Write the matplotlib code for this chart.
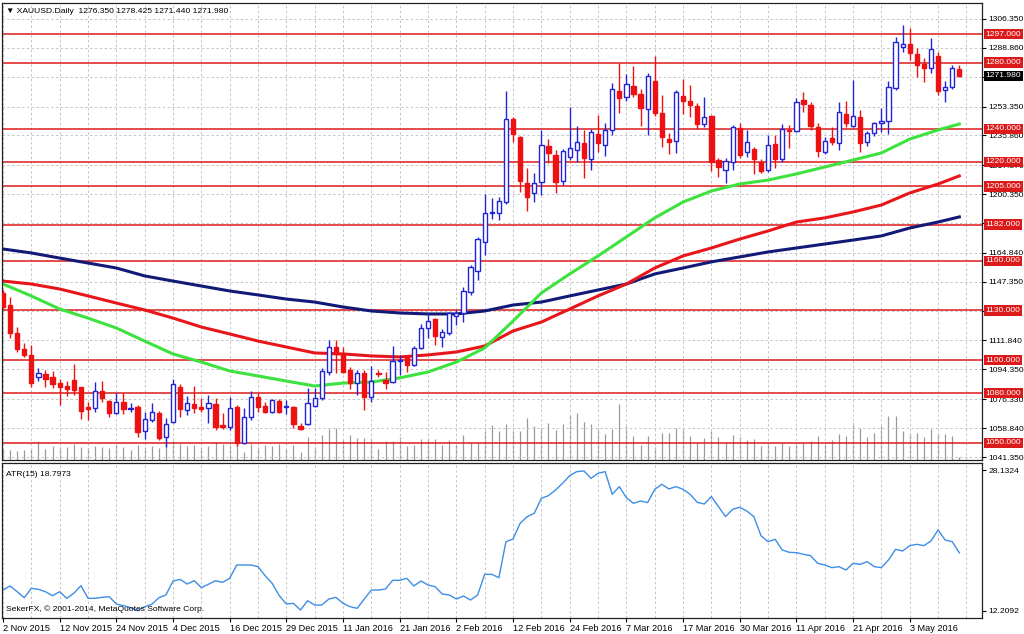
import numpy as np
import matplotlib.pyplot as plt
from matplotlib import transforms

plt.rcParams['font.family'] = ['Liberation Sans', 'DejaVu Sans']

# daily candles XAUUSD, 2 Nov 2015 .. 12 May 2016
opens = [1140.5, 1133.3, 1116.4, 1106.7, 1103.1, 1089.8, 1091.6, 1089.8, 1086.1, 1084.3,
         1087.9, 1083.7, 1071.6, 1071.0, 1081.3, 1075.2, 1068.0, 1074.6, 1070.4, 1071.6,
         1057.1, 1063.7, 1068.0, 1053.5, 1062.5, 1083.7, 1069.8, 1073.4, 1071.6, 1071.0,
         1073.4, 1060.7, 1059.5, 1071.6, 1049.8, 1065.6, 1077.6, 1072.2, 1068.6, 1075.2,
         1071.8, 1071.6, 1060.1, 1061.3, 1072.2, 1077.0, 1092.8, 1107.9, 1103.7, 1094.0,
         1086.1, 1092.2, 1077.6, 1092.2, 1087.9, 1086.7, 1099.7, 1101.9, 1097.0, 1107.3,
         1119.4, 1124.8, 1114.0, 1116.4, 1126.5, 1128.5, 1141.2, 1153.9, 1171.4, 1188.7,
         1189.0, 1195.6, 1245.8, 1235.0, 1207.1, 1201.1, 1207.7, 1229.5, 1224.1, 1208.3,
         1222.9, 1227.1, 1231.3, 1221.6, 1236.8, 1230.1, 1239.2, 1262.8, 1259.2, 1265.8,
         1261.0, 1251.9, 1268.8, 1249.5, 1233.7, 1232.5, 1259.8, 1256.7, 1253.7, 1242.8,
         1247.7, 1221.0, 1215.0, 1219.8, 1240.4, 1225.9, 1227.7, 1219.8, 1215.0, 1230.7,
         1221.6, 1239.2, 1238.6, 1257.3, 1254.3, 1241.0, 1225.9, 1234.4, 1231.3, 1248.9,
         1241.6, 1247.1, 1231.9, 1237.4, 1243.4, 1244.6, 1264.6, 1289.4, 1291.2, 1285.2,
         1279.1, 1276.7, 1284.0, 1263.4, 1265.2, 1276.35]
highs = [1142.4, 1138.2, 1120.0, 1110.3, 1109.1, 1095.2, 1094.0, 1093.4, 1088.5, 1087.3,
         1097.6, 1084.0, 1074.6, 1086.7, 1087.3, 1075.8, 1080.1, 1080.1, 1074.0, 1072.8,
         1068.6, 1074.0, 1069.2, 1064.9, 1088.5, 1085.5, 1078.3, 1084.3, 1077.0, 1078.9,
         1077.0, 1068.0, 1077.6, 1072.8, 1071.0, 1081.3, 1080.1, 1074.6, 1076.5, 1076.4,
         1075.8, 1072.0, 1061.9, 1083.1, 1083.1, 1095.2, 1112.1, 1112.1, 1107.9, 1095.8,
         1094.0, 1094.0, 1096.4, 1094.0, 1092.8, 1108.5, 1103.1, 1103.1, 1108.5, 1121.8,
         1128.5, 1125.4, 1118.8, 1129.1, 1130.3, 1144.2, 1157.5, 1174.4, 1200.5, 1198.0,
         1198.6, 1262.8, 1247.0, 1235.6, 1216.2, 1213.2, 1239.2, 1233.7, 1227.1, 1227.7,
         1253.1, 1241.6, 1239.2, 1239.8, 1248.3, 1243.4, 1267.6, 1279.7, 1273.1, 1277.9,
         1264.0, 1273.7, 1284.0, 1260.4, 1237.4, 1263.4, 1270.0, 1266.4, 1255.5, 1259.2,
         1248.3, 1222.2, 1222.2, 1242.2, 1243.4, 1239.2, 1228.9, 1221.6, 1236.2, 1236.2,
         1242.8, 1242.2, 1258.6, 1262.2, 1256.1, 1243.4, 1235.0, 1241.0, 1256.1, 1256.7,
         1269.4, 1251.3, 1238.6, 1244.0, 1252.5, 1268.8, 1295.5, 1302.7, 1300.9, 1288.8,
         1282.8, 1294.9, 1286.4, 1268.8, 1278.5, 1278.425]
lows = [1131.5, 1113.3, 1104.9, 1101.9, 1083.7, 1087.3, 1083.7, 1083.1, 1072.8, 1078.3,
        1078.9, 1064.3, 1063.7, 1068.6, 1074.6, 1065.6, 1067.5, 1067.4, 1068.6, 1053.5,
        1052.3, 1062.5, 1051.6, 1047.4, 1061.9, 1065.6, 1066.8, 1068.0, 1068.6, 1061.9,
        1057.7, 1058.3, 1057.7, 1048.0, 1049.2, 1063.7, 1068.6, 1068.0, 1068.0, 1068.0,
        1067.4, 1058.9, 1057.7, 1060.7, 1071.6, 1075.8, 1091.0, 1092.0, 1092.2, 1082.5,
        1078.9, 1069.8, 1074.6, 1089.8, 1082.5, 1086.1, 1091.0, 1092.8, 1096.4, 1106.7,
        1113.3, 1109.1, 1107.9, 1115.2, 1121.0, 1123.0, 1139.4, 1148.4, 1163.6, 1185.3,
        1184.7, 1194.4, 1232.0, 1201.7, 1190.2, 1195.6, 1199.9, 1219.2, 1201.1, 1205.9,
        1221.0, 1219.8, 1210.2, 1215.0, 1225.9, 1223.5, 1236.2, 1249.5, 1256.7, 1259.2,
        1241.6, 1236.2, 1247.7, 1228.9, 1224.7, 1225.3, 1248.9, 1247.1, 1239.8, 1241.0,
        1214.4, 1210.8, 1207.1, 1215.0, 1222.3, 1222.9, 1212.6, 1213.2, 1213.8, 1216.2,
        1219.8, 1228.3, 1238.0, 1250.1, 1239.2, 1222.9, 1224.7, 1230.1, 1227.1, 1241.0,
        1241.0, 1225.9, 1229.5, 1235.6, 1238.0, 1236.8, 1263.4, 1286.4, 1281.5, 1271.3,
        1268.2, 1273.7, 1260.4, 1256.1, 1264.0, 1271.44]
closes = [1132.1, 1116.4, 1106.7, 1103.1, 1086.1, 1092.2, 1088.5, 1085.5, 1083.7, 1082.5,
          1081.9, 1069.2, 1070.4, 1081.3, 1077.0, 1068.0, 1074.6, 1070.4, 1071.0, 1056.5,
          1064.3, 1068.6, 1052.9, 1061.3, 1085.5, 1070.4, 1074.0, 1071.0, 1070.4, 1074.0,
          1059.5, 1059.5, 1071.0, 1049.8, 1065.6, 1077.6, 1071.6, 1068.6, 1075.8, 1068.6,
          1072.2, 1061.3, 1058.3, 1074.0, 1077.0, 1093.4, 1107.9, 1103.7, 1092.8, 1086.1,
          1092.2, 1077.6, 1087.3, 1091.6, 1086.1, 1099.4, 1100.0, 1097.0, 1107.3, 1119.4,
          1123.6, 1114.6, 1117.0, 1128.5, 1128.5, 1141.8, 1156.3, 1173.2, 1189.0, 1189.3,
          1196.2, 1245.8, 1236.8, 1208.3, 1198.6, 1207.1, 1230.1, 1225.3, 1207.7, 1226.5,
          1228.3, 1231.9, 1222.3, 1238.0, 1231.3, 1239.2, 1264.0, 1258.6, 1267.0, 1261.0,
          1252.5, 1271.9, 1249.5, 1235.0, 1231.9, 1262.2, 1256.7, 1254.3, 1242.8, 1247.1,
          1219.8, 1216.8, 1220.4, 1241.0, 1224.1, 1231.9, 1221.6, 1214.4, 1230.1, 1221.6,
          1239.8, 1238.6, 1256.1, 1254.9, 1241.6, 1226.5, 1232.5, 1231.9, 1250.1, 1243.4,
          1247.7, 1231.3, 1237.4, 1243.4, 1244.6, 1265.2, 1292.4, 1291.2, 1285.8, 1278.5,
          1276.7, 1288.2, 1262.8, 1265.2, 1276.7, 1271.98]

# tick volume (thousands)
volumes = [11, 10, 9, 10, 11, 19, 11, 14, 13, 13, 16, 13, 12, 14, 13, 12, 16, 13, 10, 15,
           13, 14, 12, 17, 19, 16, 14, 15, 13, 14, 18, 16, 14, 17, 8, 16, 13, 15, 14, 16,
           11, 15, 8, 23, 13, 25, 31, 32, 20, 25, 22, 22, 22, 11, 19, 19, 23, 14, 15, 21,
           22, 21, 15, 20, 15, 25, 17, 17, 29, 35, 29, 36, 29, 29, 42, 34, 32, 37, 30, 36,
           45, 47, 38, 36, 32, 26, 31, 56, 34, 24, 15, 24, 13, 27, 27, 32, 32, 24, 17, 22,
           29, 23, 17, 25, 23, 20, 21, 14, 17, 14, 17, 14, 17, 17, 19, 24, 16, 20, 26, 24,
           37, 32, 23, 27, 34, 44, 44, 29, 27, 27, 23, 31, 27, 26, 24, 3]

# moving averages read every 4 bars
ma_bars = [0, 4, 8, 12, 16, 20, 24, 28, 32, 36, 40, 44, 48, 52, 56, 60, 64, 68, 72, 76,
           80, 84, 88, 92, 96, 100, 104, 108, 112, 116, 120, 124, 128, 132, 135]
ma_fast = [1146.0, 1138.8, 1130.9, 1125.4, 1119.4, 1111.5, 1103.7, 1098.8, 1093.4, 1090.4,
           1087.3, 1084.3, 1086.1, 1086.7, 1089.2, 1092.8, 1098.8, 1107.3, 1123.6, 1140.6,
           1152.1, 1163.0, 1174.5, 1186.0, 1195.6, 1202.3, 1206.5, 1208.9, 1212.6, 1216.8,
           1221.0, 1225.3, 1233.7, 1239.2, 1242.8]
ma_mid = [1147.8, 1146.0, 1143.0, 1138.8, 1134.5, 1130.3, 1125.4, 1120.0, 1115.8, 1111.5,
          1107.9, 1104.3, 1103.7, 1102.5, 1101.9, 1103.1, 1104.9, 1108.5, 1117.6, 1123.0,
          1130.9, 1138.8, 1146.0, 1155.7, 1163.0, 1167.8, 1173.2, 1178.1, 1183.5, 1186.0,
          1189.6, 1193.8, 1201.1, 1206.5, 1211.4]
ma_slow = [1167.2, 1164.8, 1161.7, 1158.7, 1155.7, 1150.9, 1147.8, 1144.8, 1141.8, 1139.4,
           1136.9, 1135.1, 1132.1, 1129.7, 1128.5, 1127.9, 1127.9, 1129.7, 1133.3, 1135.1,
           1138.8, 1142.4, 1146.0, 1152.1, 1155.7, 1159.4, 1162.4, 1165.4, 1167.8, 1170.2,
           1172.6, 1175.1, 1179.9, 1183.5, 1186.6]

atr = [14.58, 15.04, 14.39, 13.71, 14.77, 14.66, 14.39, 13.94, 14.39, 13.64,
       14.21, 15.08, 13.64, 13.64, 13.75, 13.83, 13.00, 12.81, 12.58, 12.24,
       12.69, 12.96, 13.71, 14.02, 15.60, 15.79, 15.26, 15.64, 14.85, 15.23,
       15.64, 15.45, 15.91, 17.42, 17.42, 17.42, 17.23, 16.21, 15.34, 13.94,
       13.00, 13.07, 12.32, 13.37, 12.88, 12.88, 13.56, 13.75, 13.07, 12.69,
       12.51, 13.56, 14.58, 14.58, 14.70, 15.68, 15.68, 15.91, 15.04, 15.60,
       15.15, 14.96, 14.13, 14.02, 13.56, 13.90, 13.45, 14.02, 16.36, 16.36,
       15.98, 20.06, 20.37, 22.14, 22.90, 23.28, 24.98, 25.28, 25.92, 26.68,
       27.55, 28.00, 28.08, 27.24, 27.81, 28.00, 25.43, 26.30, 25.05, 24.41,
       24.67, 24.49, 26.00, 26.56, 26.04, 26.30, 26.00, 25.43, 24.52, 24.33,
       25.17, 24.03, 22.90, 23.73, 23.96, 23.54, 22.90, 20.74, 20.06, 20.33,
       19.12, 18.85, 18.82, 18.63, 18.48, 17.61, 17.42, 17.12, 17.23, 16.85,
       17.61, 17.49, 17.80, 17.23, 17.12, 17.99, 19.19, 19.01, 19.61, 19.76,
       19.61, 20.14, 21.39, 20.25, 20.06, 18.80]

levels = [1297, 1280, 1240, 1220, 1205, 1182, 1160, 1130, 1100, 1080, 1050]
price_ticks = [1306.35, 1288.86, 1271.37, 1253.35, 1235.86, 1217.87, 1200.35, 1182.86,
               1164.84, 1147.35, 1129.86, 1111.84, 1094.35, 1076.33, 1058.84, 1041.35]
# these tick labels sit fully under a price box in the terminal
hidden_ticks = [1271.37, 1182.86, 1129.86]
date_labels = ['2 Nov 2015', '12 Nov 2015', '24 Nov 2015', '4 Dec 2015', '16 Dec 2015',
               '29 Dec 2015', '11 Jan 2016', '21 Jan 2016', '2 Feb 2016', '12 Feb 2016',
               '24 Feb 2016', '7 Mar 2016', '17 Mar 2016', '30 Mar 2016', '11 Apr 2016',
               '21 Apr 2016', '3 May 2016']
last_price = 1271.98

BULL = '#1f24d8'
BEAR = '#ee1111'
LEVEL = '#dd1a1a'
GRID = '#c4c4c4'
FS = 6.1

o = np.array(opens); h = np.array(highs); l = np.array(lows); c = np.array(closes)
x = np.arange(len(o))
up = c >= o

fig = plt.figure(figsize=(10.24, 6.34), dpi=100)
rect_main = [2 / 1024, 1 - 460 / 634, 980 / 1024, 457 / 634]
rect_atr = [2 / 1024, 1 - 618 / 634, 980 / 1024, 155 / 634]
xlim = (-0.14, 138.2)

# volume sits behind the price axes
ax_v = fig.add_axes(rect_main)
ax_v.set_xlim(*xlim)
ax_v.set_ylim(0, max(volumes) * 457 / 56)
ax_v.vlines(x, 0, volumes, color='#9a9a9a', lw=0.9)
ax_v.axis('off')

ax = fig.add_axes(rect_main, facecolor='none')
ax.set_xlim(*xlim)
ax.set_ylim(1039.55, 1316.0)

# grid
for gx in range(0, 139, 4):
    ax.axvline(gx, color=GRID, lw=0.7, ls=(0, (2.5, 2.5)), zorder=0)
for gy in price_ticks:
    ax.axhline(gy, color=GRID, lw=0.7, ls=(0, (2.5, 2.5)), zorder=0)

# support / resistance lines
for lv in levels:
    ax.axhline(lv, color=LEVEL, lw=1.1, zorder=1)

# moving averages
ax.plot(ma_bars, ma_slow, color='#121a78', lw=2.2, zorder=2, solid_joinstyle='round')
ax.plot(ma_bars, ma_mid, color='#e8161a', lw=2.2, zorder=2, solid_joinstyle='round')
ax.plot(ma_bars, ma_fast, color='#3ee23e', lw=2.2, zorder=2, solid_joinstyle='round')

# candles
ax.vlines(x[up], l[up], h[up], color=BULL, lw=1.0, zorder=3)
ax.vlines(x[~up], l[~up], h[~up], color=BEAR, lw=1.0, zorder=3)
body_lo = np.minimum(o, c)
body_h = np.maximum(np.abs(c - o), 0.4)
ax.bar(x[up], body_h[up], bottom=body_lo[up], width=0.6, facecolor='white',
       edgecolor=BULL, lw=1.0, zorder=4)
ax.bar(x[~up], body_h[~up], bottom=body_lo[~up], width=0.6, facecolor=BEAR,
       edgecolor=BEAR, lw=1.0, zorder=4)

ax.yaxis.tick_right()
ax.set_yticks(price_ticks)
ax.set_yticklabels(['' if t in hidden_ticks else '%.3f' % t for t in price_ticks])
ax.tick_params(axis='y', labelsize=FS, length=3, pad=1.5, width=0.8)
ax.tick_params(axis='x', length=0, labelbottom=False)
ax.set_xticks([])
for s in ax.spines.values():
    s.set_linewidth(0.9)
    s.set_color('#202020')

trans = transforms.blended_transform_factory(ax.transAxes, ax.transData)
for lv in levels:
    ax.text(1.0035, lv, '%.3f' % lv, transform=trans, ha='left', va='center',
            color='white', fontsize=FS, zorder=10, clip_on=False,
            bbox=dict(boxstyle='square,pad=0.18', fc=LEVEL, ec='none'))
ax.text(1.0035, last_price, '%.3f' % last_price, transform=trans, ha='left',
        va='center', color='white', fontsize=FS, zorder=11, clip_on=False,
        bbox=dict(boxstyle='square,pad=0.18', fc='black', ec='none'))

ax.text(0.004, 0.988, '\u25bc XAUUSD.Daily  1276.350 1278.425 1271.440 1271.980',
        transform=ax.transAxes, ha='left', va='top', fontsize=FS)

# ATR window
ax2 = fig.add_axes(rect_atr)
ax2.set_xlim(*xlim)
ax2.set_ylim(11.41, 28.98)
for gx in range(0, 139, 4):
    ax2.axvline(gx, color=GRID, lw=0.7, ls=(0, (2.5, 2.5)), zorder=0)
ax2.plot(x, atr, color='#3d8ee6', lw=1.0)
ax2.yaxis.tick_right()
ax2.set_yticks([28.1324, 12.2092])
ax2.set_yticklabels(['28.1324', '12.2092'])
ax2.tick_params(axis='y', labelsize=FS, length=3, pad=1.5, width=0.8)
ax2.set_xticks(np.arange(0, 8 * len(date_labels), 8))
ax2.set_xticklabels(date_labels)
ax2.tick_params(axis='x', labelsize=6.6, length=3, pad=1.5, width=0.8)
for lab in ax2.get_xticklabels():
    lab.set_ha('left')
for s in ax2.spines.values():
    s.set_linewidth(0.9)
    s.set_color('#202020')
ax2.text(0.004, 0.95, 'ATR(15) 18.7973', transform=ax2.transAxes, ha='left',
         va='top', fontsize=FS)
ax2.text(0.004, 0.03, 'SekerFX, \u00a9 2001-2014, MetaQuotes Software Corp.',
         transform=ax2.transAxes, ha='left', va='bottom', fontsize=FS)

fig.savefig('out.png', dpi=100)
